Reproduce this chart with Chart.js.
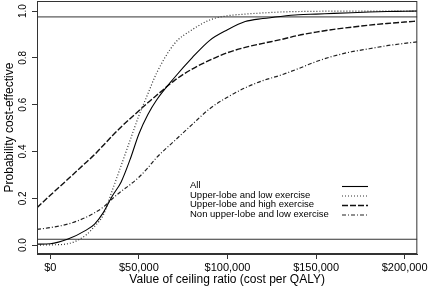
<!DOCTYPE html>
<html>
<head>
<meta charset="utf-8">
<script src="https://cdn.jsdelivr.net/npm/chart.js@4.4.1/dist/chart.umd.min.js"></script>
<style>
  html, body { margin: 0; padding: 0; background: #fff; }
</style>
</head>
<body>
<canvas id="ceac" width="430" height="291"></canvas>
<script>
// Ceiling ratio values (cost per QALY) the curves were read at
const ceilingRatios = [-7500, 0, 10000, 20000, 25000, 30000, 35000, 40000, 45000, 50000, 55000, 60000,
  70000, 80000, 90000, 100000, 110000, 120000, 130000, 140000, 150000, 160000, 170000, 180000, 190000, 200000, 207000];

// Probability cost-effective for each subgroup
const probAll = [0.004, 0.006, 0.026, 0.063, 0.09, 0.14, 0.21, 0.27, 0.365, 0.475, 0.557, 0.62,
  0.715, 0.8, 0.875, 0.92, 0.955, 0.968, 0.977, 0.984, 0.987, 0.99, 0.993, 0.996, 0.998, 0.999, 1.0];
const probUpperLow = [0.0, 0.001, 0.006, 0.042, 0.08, 0.13, 0.234, 0.34, 0.447, 0.553, 0.645, 0.735,
  0.86, 0.92, 0.962, 0.98, 0.987, 0.992, 0.996, 0.998, 0.999, 1.0, 1.0, 1.0, 1.0, 1.0, 1.0];
const probUpperHigh = [0.16, 0.213, 0.282, 0.352, 0.387, 0.427, 0.467, 0.505, 0.54, 0.574, 0.608, 0.64,
  0.703, 0.752, 0.79, 0.822, 0.845, 0.862, 0.878, 0.896, 0.91, 0.922, 0.931, 0.94, 0.947, 0.953, 0.957];
const probNonUpperLow = [0.067, 0.075, 0.09, 0.118, 0.138, 0.163, 0.198, 0.23, 0.258, 0.29, 0.33, 0.374,
  0.445, 0.515, 0.583, 0.632, 0.672, 0.703, 0.726, 0.754, 0.784, 0.808, 0.826, 0.839, 0.852, 0.862, 0.868];

const seriesLabels = ["All", "Upper-lobe and low exercise", "Upper-lobe and high exercise", "Non upper-lobe and low exercise"];

// Axis ticks and the two reference lines
const xTicks = [0, 50000, 100000, 150000, 200000];
const yTicks = [0.0, 0.2, 0.4, 0.6, 0.8, 1.0];
const refLines = [0.025, 0.975];

const X_MIN = -7500, X_MAX = 207150;
const FONT = "'Liberation Sans', Arial, sans-serif";

const toPoints = (ys) => ys.map((y, i) => ({ x: ceilingRatios[i], y: y }));

const curveStyles = [
  { borderDash: [], borderWidth: 1.1, borderColor: "#000" },
  { borderDash: [1, 2], borderWidth: 1.2, borderColor: "#333" },
  { borderDash: [6, 2], borderWidth: 1.4, borderColor: "#111" },
  { borderDash: [4, 2, 1, 2], borderWidth: 1.2, borderColor: "#222" },
];

const curveData = [probAll, probUpperLow, probUpperHigh, probNonUpperLow];

const datasets = curveData.map((ys, i) => ({
  label: seriesLabels[i],
  data: toPoints(ys),
  borderColor: curveStyles[i].borderColor,
  borderWidth: curveStyles[i].borderWidth,
  borderDash: curveStyles[i].borderDash,
  pointRadius: 0,
  cubicInterpolationMode: "monotone",
  fill: false,
}));

// horizontal reference lines across the whole plot
refLines.forEach((v) => {
  datasets.push({
    label: "ref",
    data: [{ x: X_MIN, y: v }, { x: X_MAX, y: v }],
    borderColor: "#333",
    borderWidth: 1,
    pointRadius: 0,
    fill: false,
  });
});

// box, rotated y tick labels and the legend (R style)
const framePlugin = {
  id: "frame",
  afterDraw(chart) {
    const { ctx, chartArea: a, scales } = chart;
    ctx.save();
    ctx.strokeStyle = "#333";
    ctx.lineWidth = 1;
    ctx.strokeRect(a.left + 0.5, a.top + 0.5, a.right - a.left - 1, a.bottom - a.top - 1);

    // y tick labels, rotated like R's default
    ctx.fillStyle = "#000";
    ctx.font = "10px " + FONT;
    ctx.textAlign = "center";
    ctx.textBaseline = "middle";
    yTicks.forEach((v) => {
      const py = scales.y.getPixelForValue(v);
      ctx.save();
      ctx.translate(23, py);
      ctx.rotate(-Math.PI / 2);
      ctx.fillText(v.toFixed(1), 0, 0);
      ctx.restore();
    });

    // legend: text on the left, line sample on the right
    ctx.font = "9.5px " + FONT;
    ctx.textAlign = "left";
    const rows = [185.5, 195, 204.5, 214];
    seriesLabels.forEach((lab, i) => {
      ctx.fillStyle = "#000";
      ctx.fillText(lab, 190, rows[i]);
      ctx.strokeStyle = curveStyles[i].borderColor;
      ctx.lineWidth = curveStyles[i].borderWidth;
      ctx.setLineDash(curveStyles[i].borderDash);
      ctx.beginPath();
      ctx.moveTo(342, rows[i] + 1);
      ctx.lineTo(368, rows[i] + 1);
      ctx.stroke();
      ctx.setLineDash([]);
    });
    ctx.restore();
  },
};

new Chart(document.getElementById("ceac"), {
  type: "line",
  data: { datasets: datasets },
  options: {
    responsive: false,
    animation: false,
    devicePixelRatio: 1,
    layout: { padding: { top: 1, right: 12, left: 0, bottom: 0 } },
    plugins: { legend: { display: false }, tooltip: { enabled: false } },
    scales: {
      x: {
        type: "linear",
        min: X_MIN,
        max: X_MAX,
        afterBuildTicks: (s) => { s.ticks = xTicks.map((v) => ({ value: v })); },
        afterFit: (s) => { s.height = 37; },
        ticks: {
          color: "#000",
          font: { family: FONT, size: 11 },
          padding: 2,
          maxRotation: 0,
          callback: (v) => "$" + v.toLocaleString("en-US"),
        },
        grid: { drawOnChartArea: false, drawTicks: true, tickLength: 5, color: "#333" },
        border: { display: true, color: "#333" },
        title: {
          display: true,
          text: "Value of ceiling ratio (cost per QALY)",
          color: "#000",
          font: { family: FONT, size: 12 },
          padding: { top: 0, bottom: 4 },
        },
      },
      y: {
        type: "linear",
        min: -0.038,
        max: 1.043,
        afterBuildTicks: (s) => { s.ticks = yTicks.map((v) => ({ value: v })); },
        afterFit: (s) => { s.width = 37; },
        ticks: { display: false },
        grid: { drawOnChartArea: false, drawTicks: true, tickLength: 5, color: "#333" },
        border: { display: true, color: "#333" },
        title: {
          display: true,
          text: "Probability cost-effective",
          color: "#000",
          font: { family: FONT, size: 12 },
          padding: { top: 2, bottom: 0 },
        },
      },
    },
  },
  plugins: [framePlugin],
});
</script>
</body>
</html>
